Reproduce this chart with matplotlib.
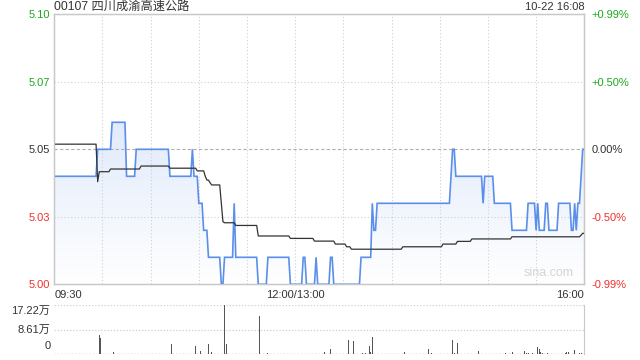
import numpy as np
import matplotlib
matplotlib.use('Agg')
import matplotlib.pyplot as plt
import matplotlib.transforms as mtransforms
from matplotlib.colors import LinearSegmentedColormap

plt.rcParams['font.family'] = ['Liberation Sans', 'Noto Sans CJK SC', 'DejaVu Sans']

# ---------------- data ----------------
title = '00107 四川成渝高速公路'
stamp = '10-22 16:08'
prev_close = 5.05
total_minutes = 330  # 09:30-12:00 + 13:00-16:00

# last price: minute index where the price changes, and the new price
price_change_min = [0, 27, 36, 45, 51, 72, 86, 87, 90, 93, 96, 104, 106, 112, 113,
                    127, 133, 147, 155, 157, 163, 164, 172, 174, 191, 198, 199, 201,
                    247, 248, 250, 267, 268, 274, 285, 295, 300, 301, 302, 306, 308,
                    314, 322, 324, 325, 326, 328, 329]
price_change_val = [5.04, 5.05, 5.06, 5.04, 5.05, 5.04, 5.05, 5.04, 5.03, 5.02, 5.01, 5.00, 5.01, 5.03, 5.01,
                    5.00, 5.01, 5.00, 5.01, 5.00, 5.01, 5.00, 5.01, 5.00, 5.01, 5.03, 5.02, 5.03,
                    5.04, 5.05, 5.04, 5.03, 5.04, 5.03, 5.02, 5.03, 5.02, 5.03, 5.02, 5.03, 5.02,
                    5.03, 5.02, 5.03, 5.02, 5.03, 5.04, 5.05]

# average price line
avg_change_min = [0, 27, 28, 35, 54, 72, 89, 94, 95, 97, 98, 104, 105, 106, 113, 127,
                  147, 162, 175, 182, 185, 217, 242, 251, 260, 285, 328, 329]
avg_change_val = [5.0519, 5.0380, 5.0417, 5.0427, 5.0438, 5.0430, 5.0420, 5.0400, 5.0386,
                  5.0376, 5.0368, 5.0300, 5.0232, 5.0228, 5.0218, 5.0179, 5.0170, 5.0160,
                  5.0149, 5.0139, 5.0130, 5.0139, 5.0149, 5.0159, 5.0168, 5.0176, 5.0182, 5.0189]

# volume bars (minute index, shares)
vol_min = [28, 29, 37, 73, 88, 91, 96, 98, 106, 107, 115, 128, 133, 148, 168, 172, 183, 186,
           192, 194, 196, 197, 198, 218, 233, 235, 248, 249, 251, 264, 280, 281, 285, 293,
           294, 295, 298, 301, 302, 303, 304, 307, 313, 318, 319, 320, 324, 327, 328, 330]
vol_val = [67500, 58200, 8100, 37200, 30300, 12800, 37200, 9300, 172200, 37200, 25600,
           133800, 5800, 30300, 8100, 18600, 50000, 46500, 5800, 5800, 29100, 8100, 60500,
           8100, 18600, 5800, 50000, 5800, 40700, 11600, 5800, 5800, 8100, 12800, 5800,
           5800, 5800, 25600, 18600, 7000, 5800, 5800, 5800, 5800, 7000, 9300, 15100,
           5800, 5800, 29100]
vol_max = 172200

price_tick_labels = ['5.00', '5.03', '5.05', '5.07', '5.10']
pct_tick_labels = ['-0.99%', '-0.50%', '0.00%', '+0.50%', '+0.99%']
vol_tick_labels = ['0', '8.61万', '17.22万']
time_tick_min = [0, 150, 330]
time_tick_labels = ['09:30', '12:00/13:00', '16:00']

# ---------------- styles ----------------
GREEN = '#1fa81f'
RED = '#f0302a'
DARK = '#333333'
GRID = '#cfcfcf'
SPINE = '#c8c8c8'
BLUE = '#5b8fea'
tick_colors = [RED, RED, DARK, GREEN, GREEN]

# ---------------- build series ----------------
minutes = np.arange(total_minutes + 1)
pc_m = np.array(price_change_min)
pc_v = np.array(price_change_val)
price = pc_v[np.searchsorted(pc_m, minutes, side='right') - 1]
ac_m = np.array(avg_change_min)
ac_v = np.array(avg_change_val)
avg = ac_v[np.searchsorted(ac_m, minutes, side='right') - 1]

ylo = prev_close * (1 - 0.0099)
yhi = prev_close * (1 + 0.0099)
yticks = np.linspace(ylo, yhi, 5)

fig = plt.figure(figsize=(6.4, 3.6), dpi=100)
W, H = 640, 360
L, R = 54.3, 584.3
ax = fig.add_axes([L / W, 1 - 284.3 / H, (R - L) / W, (284.3 - 14.3) / H])
axv = fig.add_axes([L / W, 1 - 354.3 / H, (R - L) / W, (354.3 - 305.0) / H])

# gradient fill under price
poly = ax.fill_between(minutes, price, ylo, color='none', linewidth=0)
grad = np.linspace(0, 1, 256).reshape(-1, 1)
cmap = LinearSegmentedColormap.from_list('g', ['#ffffff', '#e6eefc', '#d2e1f9'])
img = ax.imshow(grad, extent=[0, total_minutes, ylo, yhi], origin='lower',
                aspect='auto', cmap=cmap, zorder=1, interpolation='bilinear')
img.set_clip_path(poly.get_paths()[0], transform=ax.transData)

# grid
for i, yv in enumerate(yticks[1:-1]):
    if i == 1:
        ax.axhline(yv, color='#b0b0b0', lw=0.8, ls=(0, (3, 2)), zorder=2)
    else:
        ax.axhline(yv, color=GRID, lw=0.8, ls=(0, (1, 2)), zorder=2)
for m in range(30, total_minutes, 30):
    ax.axvline(m, color=GRID, lw=0.8, ls=(0, (1, 2)), zorder=2)

ax.plot(minutes, price, color=BLUE, lw=1.2, zorder=4, solid_joinstyle='miter')
ax.plot(minutes, avg, color=DARK, lw=0.9, zorder=5)

ax.set_xlim(0, total_minutes)
ax.set_ylim(ylo, yhi)
ax.set_yticks(yticks)
ax.set_yticklabels(price_tick_labels, fontsize=8)
for lbl, c in zip(ax.get_yticklabels(), tick_colors):
    lbl.set_color(c)
ax.tick_params(axis='y', length=0, pad=3)
ax.set_xticks(time_tick_min)
ax.set_xticklabels(time_tick_labels, fontsize=8, color=DARK)
for lbl, ha in zip(ax.get_xticklabels(), ['left', 'center', 'right']):
    lbl.set_ha(ha)
ax.tick_params(axis='x', length=0, pad=4)
for s in ax.spines.values():
    s.set_color(SPINE)
    s.set_linewidth(1.0)

ax2 = ax.twinx()
ax2.set_ylim(ylo, yhi)
ax2.set_yticks(yticks)
ax2.set_yticklabels(pct_tick_labels, fontsize=8)
for lbl, c in zip(ax2.get_yticklabels(), tick_colors):
    lbl.set_color(c)
ax2.tick_params(axis='y', length=0, pad=5)
for s in ax2.spines.values():
    s.set_color(SPINE)

ax.text(0.0, 1.0 + 7.3 / 270, title, transform=ax.transAxes, ha='left', va='center',
        fontsize=8.8, color=DARK, family=['Liberation Sans', 'Noto Sans CJK SC'])
ax.text(1.0, 1.0 + 7.3 / 270, stamp, transform=ax.transAxes, ha='right', va='center',
        fontsize=8, color=DARK)
ax.text(0.98, 0.02, 'sina.com', transform=ax.transAxes, ha='right', va='bottom',
        fontsize=9, color='#d4d4d4', zorder=3)

# volume panel
axv.bar(vol_min, vol_val, width=0.6, color='#555555', zorder=3)
axv.set_xlim(0, total_minutes)
axv.set_ylim(0, vol_max)
for yv in [vol_max / 2, vol_max]:
    axv.axhline(yv, color=GRID, lw=0.9, ls=(0, (1, 1.5)), zorder=1)
axv.axhline(0, color='#999999', lw=1.0, ls=(0, (1, 1.5)), zorder=2)
axv.set_xticks([])
axv.set_yticks([])
for k, s in axv.spines.items():
    s.set_visible(k == 'right')
    s.set_color(SPINE)
trans = mtransforms.blended_transform_factory(fig.transFigure, axv.transData)
vol_label_y = [3.3 / 49.3 * vol_max, vol_max / 2, vol_max - 1.0 / 49.3 * vol_max]
vol_label_va = ['bottom', 'center', 'top']
for lab, yv, va in zip(vol_tick_labels, vol_label_y, vol_label_va):
    fig.text(50.5 / W, yv, lab, transform=trans, ha='right', va=va, fontsize=8, color=DARK,
             family=['Liberation Sans', 'Noto Sans CJK SC'])

fig.savefig('out.png', dpi=100)
